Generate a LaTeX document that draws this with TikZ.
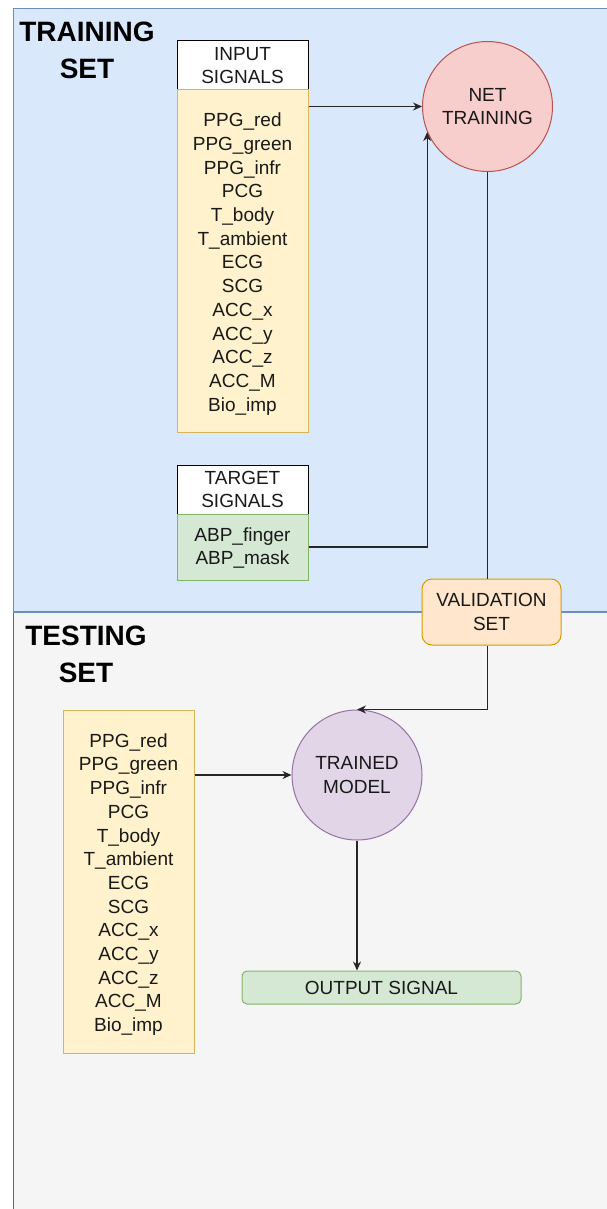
\documentclass[tikz,border=0pt]{standalone}
\usepackage{fontspec}
\setmainfont{Liberation Sans}
\usetikzlibrary{arrows.meta,calc}
\definecolor{blueF}{HTML}{DAE8FC}
\definecolor{blueD}{HTML}{6C8EBF}
\definecolor{grayF}{HTML}{F5F5F5}
\definecolor{grayD}{HTML}{666666}
\definecolor{yellowF}{HTML}{FFF2CC}
\definecolor{yellowD}{HTML}{D6B656}
\definecolor{greenF}{HTML}{D5E8D4}
\definecolor{greenD}{HTML}{82B366}
\definecolor{redF}{HTML}{F8CECC}
\definecolor{redD}{HTML}{B85450}
\definecolor{purpleF}{HTML}{E1D5E7}
\definecolor{purpleD}{HTML}{9673A6}
\definecolor{orangeF}{HTML}{FFE6CC}
\definecolor{orangeD}{HTML}{D79B00}
\begin{document}
\begin{tikzpicture}[x=1pt,y=-1pt,
  txt/.style={font=\fontsize{19}{23.7}\selectfont, align=center, text=black!90},
  title/.style={font=\fontsize{28}{37}\selectfont\bfseries, align=center},
  box/.style={draw, line width=1pt, inner sep=0pt, txt},
  hdr/.style={box, fill=white, draw=black, minimum width=131pt, minimum height=49pt},
  bodyY/.style={box, fill=yellowF, draw=yellowD, minimum width=131pt},
  bodyG/.style={box, fill=greenF, draw=greenD, minimum width=131pt},
  roundc/.style={circle, draw, line width=1pt, inner sep=0pt, minimum size=130pt, txt},
  conn/.style={line width=1.2pt, draw=black!85},
  arr/.style={conn, -{Stealth[length=9pt,width=8pt]}}
]
\useasboundingbox (0,0) rectangle (606,1209);
% regions
\path[fill=grayF, draw=grayD, line width=1.2pt] (13.5,612) rectangle (620,1230);
\path[fill=blueF, draw=blueD, line width=1.2pt] (13.5,8.5) rectangle (620,612);
\node[title] (trt) at (87,50) {TRAINING\\SET};
\node[title] (tst) at (86,654) {TESTING\\SET};
% training
\node[hdr] (inhdr) at (242.5,65.5) {INPUT\\SIGNALS};
\node[bodyY, minimum height=342pt] (inbody) at (242.5,261) {};
\node[txt] (inbodyt) at ($(inbody.center)+(0,3)$) {PPG\_red\\PPG\_green\\PPG\_infr\\PCG\\T\_body\\T\_ambient\\ECG\\SCG\\ACC\_x\\ACC\_y\\ACC\_z\\ACC\_M\\Bio\_imp};
\node[hdr] (tghdr) at (242.5,489.5) {TARGET\\SIGNALS};
\node[bodyG, minimum height=66pt] (tgbody) at (242.5,547) {};
\node[txt] (tgbodyt) at ($(tgbody.center)+(0,1)$) {ABP\_finger\\ABP\_mask};
\node[roundc, fill=redF, draw=redD] (nt) at (487.5,106.5) {NET\\TRAINING};
\node[box, fill=orangeF, draw=orangeD, rounded corners=10pt, minimum width=139pt, minimum height=66pt] (val) at (491.5,612) {VALIDATION\\SET};
% testing
\node[bodyY, minimum height=343pt] (tsbody) at (128.5,881.5) {};
\node[txt] (tsbodyt) at ($(tsbody.center)+(0,3)$) {PPG\_red\\PPG\_green\\PPG\_infr\\PCG\\T\_body\\T\_ambient\\ECG\\SCG\\ACC\_x\\ACC\_y\\ACC\_z\\ACC\_M\\Bio\_imp};
\node[roundc, fill=purpleF, draw=purpleD] (tm) at (357,775) {TRAINED\\MODEL};
\node[box, fill=greenF, draw=greenD, rounded corners=5pt, minimum width=279pt, minimum height=33pt] (out) at (381.5,987.5) {OUTPUT SIGNAL};
% connectors
\draw[arr] (inbody.east |- nt.west) -- (nt.west);
\draw[arr] (tgbody.east) -| (nt.203);
\draw[conn] (nt.south) -- (val.north -| nt.south);
\draw[arr] (val.south -| nt.south) |- (tm.north);
\draw[arr] (tsbody.east |- tm.west) -- (tm.west);
\draw[arr] (tm.south) -- (tm.south |- out.north);
\end{tikzpicture}
\end{document}
